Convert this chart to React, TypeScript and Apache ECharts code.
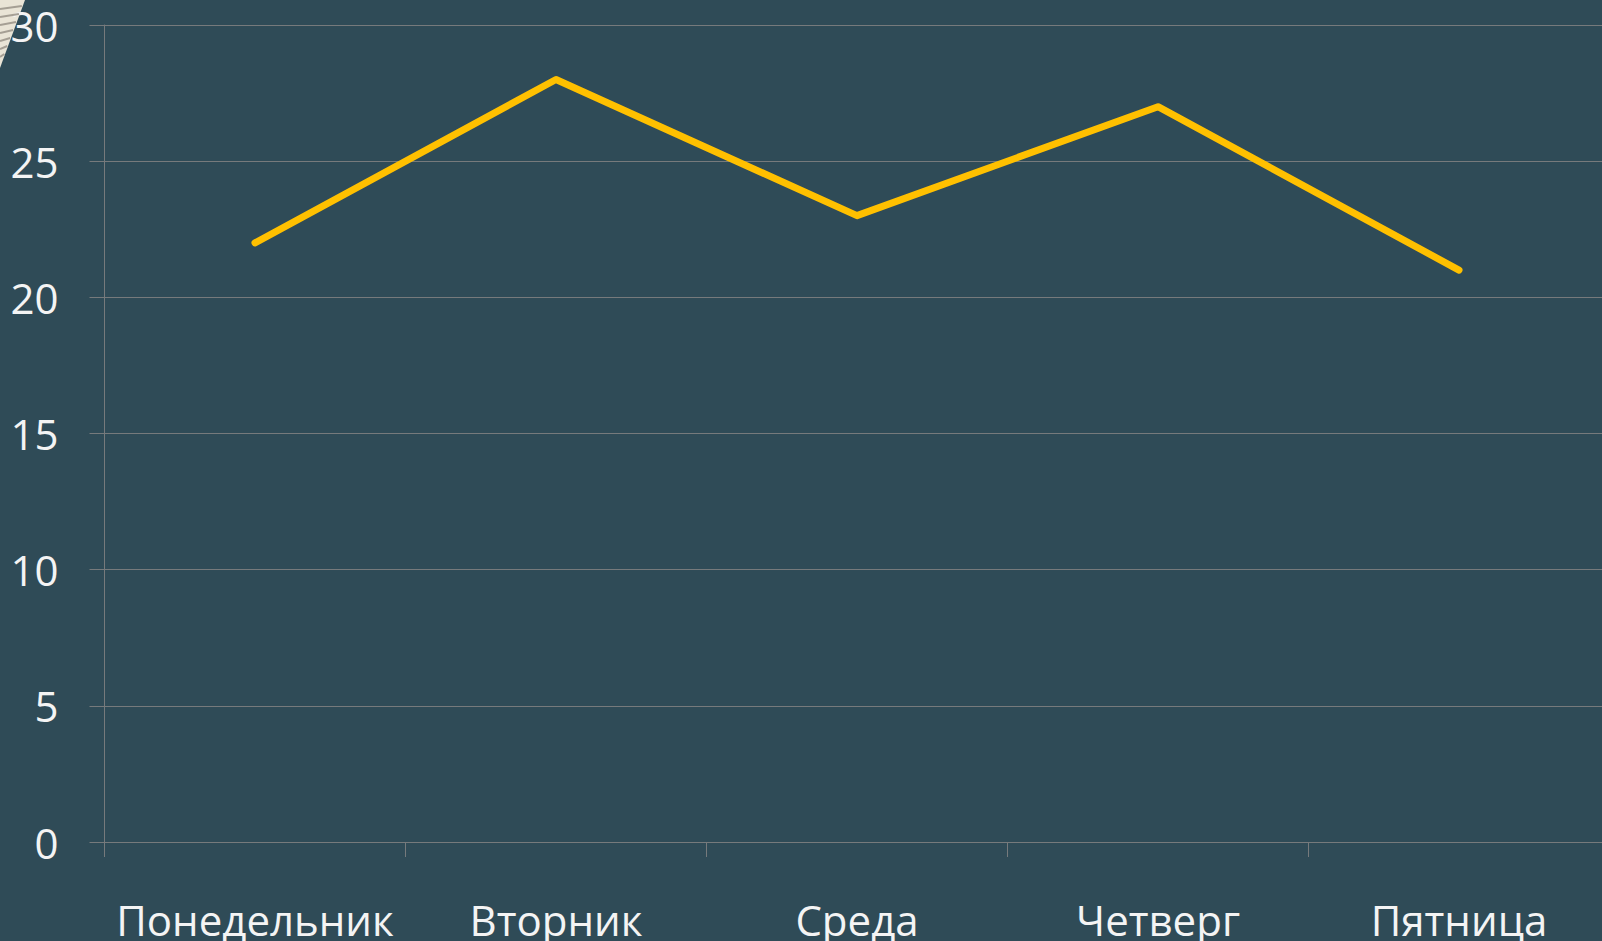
import React, { useEffect, useRef } from "react";
import * as echarts from "echarts";

const categories = ["Понедельник", "Вторник", "Среда", "Четверг", "Пятница"];
const values = [22, 28, 23, 27, 21];
const yTicks = { min: 0, max: 30, interval: 5 };

export default function App() {
  const ref = useRef<HTMLDivElement>(null);
  useEffect(() => {
    const chart = echarts.init(ref.current!, null, { renderer: "svg" });
    const stripeYs = [6, 14, 22, 30, 38, 46, 54];
    const stripes = stripeYs.map((y) => ({
      type: "line",
      z: 1,
      shape: { x1: 0, y1: y + 3, x2: 24 * (1 - y / 66), y2: y },
      style: { stroke: "#a59f94", lineWidth: 2 },
    }));
    chart.setOption({
      animation: false,
      backgroundColor: "#2f4b57",
      textStyle: { fontFamily: "Open Sans" },
      graphic: [
        {
          type: "polygon",
          z: 0,
          shape: { points: [[0, 0], [25, 0], [0, 68]] },
          style: { fill: "#e9e4d6" },
        },
        ...stripes,
      ],
      grid: { left: 104.5, top: 25, bottom: 99, right: 0.5, containLabel: false },
      xAxis: {
        type: "category",
        data: categories,
        boundaryGap: true,
        axisLine: { show: true, lineStyle: { color: "#767a7c", width: 1 } },
        axisTick: { show: true, length: 15, interval: 0, alignWithLabel: false, lineStyle: { color: "#767a7c" } },
        axisLabel: { color: "#f4f4f4", fontSize: 42, margin: 56, interval: 0, fontFamily: "Open Sans" },
        splitLine: { show: false },
      },
      yAxis: {
        type: "value",
        min: yTicks.min,
        max: yTicks.max,
        interval: yTicks.interval,
        axisLine: { show: true, lineStyle: { color: "#767a7c", width: 1 } },
        axisTick: { show: true, length: 15, lineStyle: { color: "#767a7c" } },
        axisLabel: { color: "#f4f4f4", fontSize: 42, margin: 46, fontFamily: "Open Sans" },
        splitLine: { show: true, lineStyle: { color: "#767a7c", width: 1 } },
      },
      series: [
        {
          type: "line",
          data: values,
          showSymbol: false,
          symbol: "none",
          lineStyle: { color: "#ffc000", width: 7, cap: "round", join: "round" },
        },
      ],
    });
    return () => chart.dispose();
  }, []);
  return (
    <div
      ref={ref}
      style={{ position: "fixed", left: 0, top: 0, width: 1610, height: 941 }}
    />
  );
}
